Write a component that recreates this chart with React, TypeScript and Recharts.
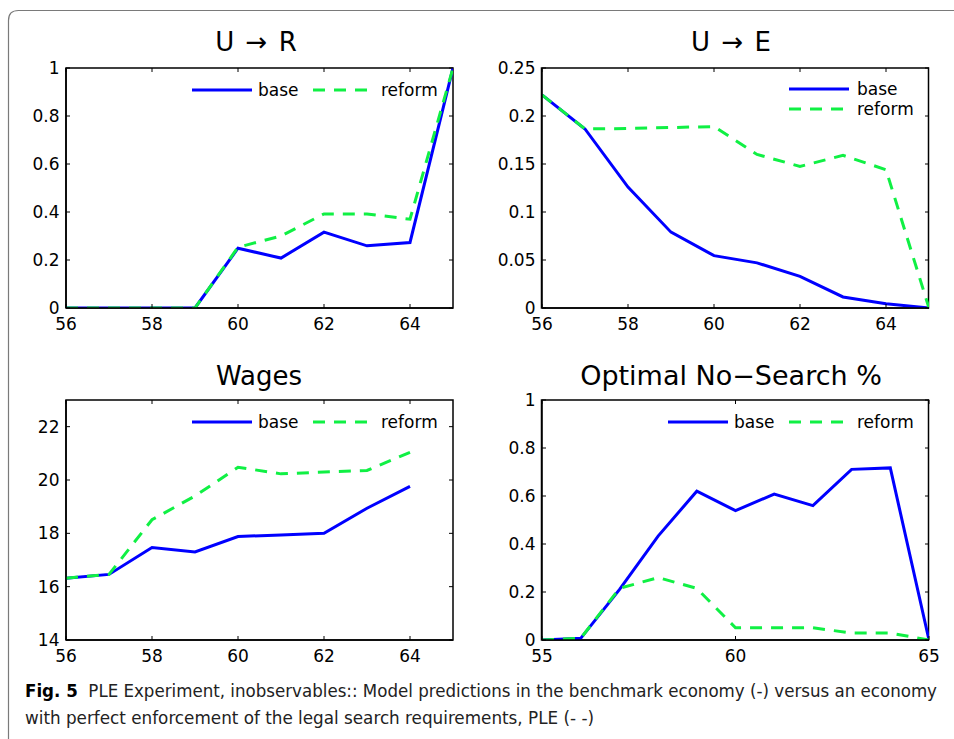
import React from "react";
import { LineChart, Line, XAxis, YAxis, Legend } from "recharts";

// ages on the x axis
const ages = [56, 57, 58, 59, 60, 61, 62, 63, 64, 65];
const wageAges = [56, 57, 58, 59, 60, 61, 62, 63, 64];
const noSearchAges = [55, 56, 57, 58, 59, 60, 61, 62, 63, 64, 65];

// U -> R
const urBase = [0, 0, 0, 0, 0.249, 0.208, 0.316, 0.259, 0.273, 1.0];
const urReform = [0, 0, 0, 0, 0.253, 0.3, 0.392, 0.392, 0.37, 1.0];

// U -> E
const ueBase = [0.222, 0.1865, 0.126, 0.079, 0.0545, 0.047, 0.033, 0.0115, 0.0045, 0];
const ueReform = [0.222, 0.1865, 0.187, 0.188, 0.189, 0.16, 0.1475, 0.159, 0.144, 0];

// Wages
const wageBase = [16.32, 16.46, 17.47, 17.3, 17.88, 17.94, 18.0, 18.94, 19.76];
const wageReform = [16.32, 16.46, 18.51, 19.4, 20.48, 20.23, 20.3, 20.36, 21.04];

// Optimal No-Search %
const nsBase = [0, 0.007, 0.21, 0.433, 0.62, 0.539, 0.608, 0.56, 0.711, 0.717, 0];
const nsReform = [0, 0.007, 0.215, 0.26, 0.215, 0.051, 0.051, 0.051, 0.029, 0.029, 0];

const xTicksA = [56, 58, 60, 62, 64];
const xTicksB = [55, 60, 65];
const yTicksUnit = [0, 0.2, 0.4, 0.6, 0.8, 1];
const yTicksUE = [0, 0.05, 0.1, 0.15, 0.2, 0.25];
const yTicksWage = [14, 16, 18, 20, 22];

const BLUE = "#0000ff";
const GREEN = "#10f044";
const DASH = "12 9";
const FONT = "DejaVu Sans, Verdana, sans-serif";
const FRAME_W = 1.5;

// plot box inside each chart
const PL = 60;
const PT = 10;
const PW = 387;
const PH = 240;
const PR = PL + PW;
const PB = PT + PH;
const CW = PR + 12;
const CH = PB + 30;

// where each plot box sits on the page
const LEFT_COL = 66;
const RIGHT_COL = 541.5;
const TOP_ROW = 68;
const BOTTOM_ROW = 400;
const boxes = [
  [LEFT_COL, TOP_ROW],
  [RIGHT_COL, TOP_ROW],
  [LEFT_COL, BOTTOM_ROW],
  [RIGHT_COL, BOTTOM_ROW],
];

const table = (xs: number[], base: number[], reform: number[]) =>
  xs.map((age, i) => ({ age, base: base[i], reform: reform[i] }));

function XTick(props: any) {
  const { x, payload } = props;
  return (
    <g>
      <line x1={x} x2={x} y1={PB} y2={PB - 4} stroke="#000" />
      <line x1={x} x2={x} y1={PT} y2={PT + 4} stroke="#000" />
      <text x={x} y={PB + 21.5} textAnchor="middle" fontSize={17} fontFamily={FONT} fill="#000">
        {payload.value}
      </text>
    </g>
  );
}

function YTick(props: any) {
  const { y, payload } = props;
  return (
    <g>
      <line x1={PL} x2={PL + 4} y1={y} y2={y} stroke="#000" />
      <line x1={PR - 4} x2={PR} y1={y} y2={y} stroke="#000" />
      <text x={PL - 6.5} y={y + 6} textAnchor="end" fontSize={17} fontFamily={FONT} fill="#000">
        {String(payload.value)}
      </text>
    </g>
  );
}

function LegendBox({ payload, stacked }: { payload?: any[]; stacked: boolean }) {
  const items = payload ?? [];
  const spots = stacked
    ? [
        { x1: 127, x2: 187, y: 13, tx: 195 },
        { x1: 127, x2: 187, y: 33, tx: 195 },
      ]
    : [
        { x1: 6, x2: 66, y: 14, tx: 72 },
        { x1: 127, x2: 182, y: 14, tx: 195 },
      ];
  return (
    <svg width={280} height={50} style={{ display: "block" }}>
      {items.map((it, i) => {
        const s = spots[i];
        return (
          <g key={it.value}>
            <line
              x1={s.x1}
              x2={s.x2}
              y1={s.y}
              y2={s.y}
              stroke={it.color}
              strokeWidth={3}
              strokeDasharray={it.value === "reform" ? DASH : undefined}
            />
            <text x={s.tx} y={s.y + 6} fontSize={17} fontFamily={FONT} fill="#000">
              {it.value}
            </text>
          </g>
        );
      })}
    </svg>
  );
}

interface PanelProps {
  left: number;
  top: number;
  data: { age: number; base: number; reform: number }[];
  xDomain: [number, number];
  xTicks: number[];
  yDomain: [number, number];
  yTicks: number[];
  stacked?: boolean;
}

function Panel({ left, top, data, xDomain, xTicks, yDomain, yTicks, stacked = false }: PanelProps) {
  return (
    <div style={{ position: "absolute", left: left - PL, top: top - PT }}>
      <LineChart width={CW} height={CH} data={data} margin={{ top: PT, right: 12, bottom: 0, left: 0 }}>
        <XAxis
          dataKey="age"
          type="number"
          domain={xDomain}
          ticks={xTicks}
          interval={0}
          height={30}
          tickLine={false}
          axisLine={{ stroke: "#000", strokeWidth: FRAME_W }}
          tick={<XTick />}
          allowDataOverflow
        />
        <YAxis
          type="number"
          domain={yDomain}
          ticks={yTicks}
          interval={0}
          width={PL}
          tickLine={false}
          axisLine={{ stroke: "#000", strokeWidth: FRAME_W }}
          tick={<YTick />}
          allowDataOverflow
        />
        <Legend
          layout="horizontal"
          verticalAlign="middle"
          align="center"
          wrapperStyle={{ position: "absolute", left: 180, top: 18, width: 280, height: 50 }}
          content={(p: any) => <LegendBox payload={p.payload} stacked={stacked} />}
        />
        <Line
          dataKey="base"
          name="base"
          type="linear"
          stroke={BLUE}
          strokeWidth={3}
          dot={false}
          activeDot={false}
          isAnimationActive={false}
        />
        <Line
          dataKey="reform"
          name="reform"
          type="linear"
          stroke={GREEN}
          strokeWidth={3}
          strokeDasharray={DASH}
          dot={false}
          activeDot={false}
          isAnimationActive={false}
        />
      </LineChart>
    </div>
  );
}

export default function App() {
  return (
    <div
      style={{
        position: "absolute",
        left: 0,
        top: 0,
        width: 954,
        height: 739,
        overflow: "hidden",
        background: "#fff",
      }}
    >
      <svg width={954} height={739} style={{ position: "absolute", left: 0, top: 0 }}>
        <path d="M 8.5 739 V 20.5 Q 8.5 10.5 18.5 10.5 H 954" fill="none" stroke="#7a7a7a" strokeWidth={1.2} />
        {/* plot frames */}
        {boxes.map(([bx, by]) => (
          <rect key={`f-${bx}-${by}`} x={bx} y={by} width={PW} height={PH} fill="none" stroke="#000" strokeWidth={FRAME_W} />
        ))}
        <g fontFamily={FONT} fontSize={26} fill="#000" textAnchor="middle">
          <text x={256} y={51} style={{ wordSpacing: 3 }}>U → R</text>
          <text x={731} y={51} style={{ wordSpacing: 3 }}>U → E</text>
          <text x={259} y={385}>Wages</text>
          <text x={731} y={385} fontSize={27}>Optimal No−Search %</text>
        </g>
        <g fontFamily="Liberation Sans Narrow, DejaVu Sans Condensed, Liberation Sans, sans-serif" fontSize={18.5} fill="#222">
          <text x={25} y={697} textLength={912} lengthAdjust="spacingAndGlyphs" xmlSpace="preserve">
            <tspan fontWeight="bold" fill="#000">Fig. 5</tspan>
            {"  PLE Experiment, inobservables:: Model predictions in the benchmark economy (-) versus an economy"}
          </text>
          <text x={25} y={723.5} textLength={569} lengthAdjust="spacingAndGlyphs">
            with perfect enforcement of the legal search requirements, PLE (- -)
          </text>
        </g>
      </svg>
      <Panel left={LEFT_COL} top={TOP_ROW} data={table(ages, urBase, urReform)} xDomain={[56, 65]} xTicks={xTicksA} yDomain={[0, 1]} yTicks={yTicksUnit} />
      <Panel left={RIGHT_COL} top={TOP_ROW} data={table(ages, ueBase, ueReform)} xDomain={[56, 65]} xTicks={xTicksA} yDomain={[0, 0.25]} yTicks={yTicksUE} stacked />
      <Panel left={LEFT_COL} top={BOTTOM_ROW} data={table(wageAges, wageBase, wageReform)} xDomain={[56, 65]} xTicks={xTicksA} yDomain={[14, 23]} yTicks={yTicksWage} />
      <Panel left={RIGHT_COL} top={BOTTOM_ROW} data={table(noSearchAges, nsBase, nsReform)} xDomain={[55, 65]} xTicks={xTicksB} yDomain={[0, 1]} yTicks={yTicksUnit} />
    </div>
  );
}
